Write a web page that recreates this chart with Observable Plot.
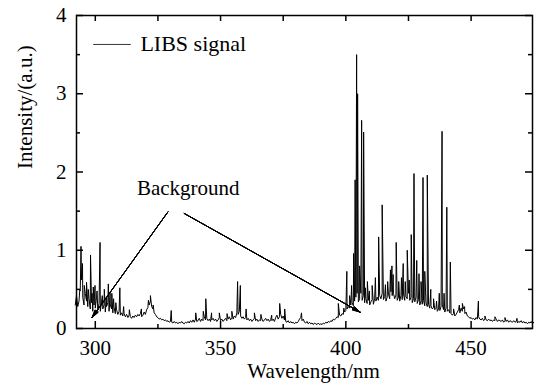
<!DOCTYPE html>
<html>
<head>
<meta charset="utf-8">
<script src="https://cdn.jsdelivr.net/npm/d3@7"></script>
<script src="https://cdn.jsdelivr.net/npm/@observablehq/plot@0.6"></script>
<style>
  html, body { margin: 0; padding: 0; background: #fff; }
</style>
</head>
<body>
<div id="chart"></div>
<script>
// Sampling grid of the continuum (nm)
const wlStart = 292.0;
const wlStep = 0.5;

// Continuum intensity, one value per 0.5 nm (292.0 … 475.0)
const baseIntensity = [
  0.30,0.42,0.28,0.35,0.48,0.62,0.40,0.30,0.45,0.35, // 292
  0.28,0.38,0.25,0.33,0.22,0.30,0.26,0.40,0.24,0.32, // 297
  0.22,0.35,0.25,0.30,0.21,0.28,0.33,0.22,0.30,0.25, // 302
  0.20,0.27,0.19,0.24,0.18,0.22,0.17,0.20,0.16,0.19, // 307
  0.15,0.18,0.14,0.17,0.15,0.13,0.16,0.14,0.17,0.15, // 312
  0.18,0.16,0.19,0.15,0.17,0.21,0.18,0.24,0.27,0.30, // 317
  0.35,0.28,0.25,0.20,0.18,0.15,0.14,0.12,0.13,0.11, // 322
  0.12,0.10,0.11,0.09,0.10,0.08,0.09,0.08,0.07,0.09, // 327
  0.07,0.08,0.06,0.08,0.07,0.09,0.07,0.06,0.08,0.07, // 332
  0.09,0.07,0.10,0.08,0.11,0.08,0.12,0.09,0.10,0.13, // 337
  0.09,0.12,0.10,0.15,0.11,0.13,0.10,0.12,0.09,0.11, // 342
  0.13,0.10,0.12,0.09,0.11,0.14,0.10,0.12,0.09,0.11, // 347
  0.13,0.10,0.12,0.15,0.11,0.14,0.12,0.16,0.14,0.20, // 352
  0.18,0.22,0.16,0.13,0.15,0.12,0.14,0.11,0.13,0.10, // 357
  0.12,0.09,0.11,0.13,0.10,0.12,0.09,0.11,0.10,0.12, // 362
  0.09,0.11,0.13,0.10,0.12,0.09,0.11,0.10,0.12,0.09, // 367
  0.14,0.17,0.12,0.15,0.18,0.13,0.16,0.11,0.09,0.08, // 372
  0.10,0.07,0.09,0.07,0.08,0.06,0.08,0.07,0.09,0.12, // 377
  0.14,0.10,0.12,0.08,0.07,0.09,0.06,0.08,0.06,0.07, // 382
  0.05,0.07,0.06,0.05,0.07,0.05,0.06,0.05,0.07,0.06, // 387
  0.08,0.07,0.09,0.08,0.10,0.09,0.12,0.11,0.13,0.15, // 392
  0.14,0.17,0.16,0.19,0.18,0.21,0.23,0.25,0.28,0.26, // 397
  0.30,0.33,0.29,0.35,0.40,0.45,0.34,0.38,0.45,0.36, // 402
  0.42,0.33,0.38,0.32,0.36,0.30,0.34,0.37,0.31,0.38, // 407
  0.35,0.40,0.36,0.42,0.38,0.45,0.37,0.41,0.35,0.40, // 412
  0.44,0.38,0.47,0.42,0.45,0.38,0.43,0.36,0.40,0.35, // 417
  0.42,0.37,0.44,0.36,0.41,0.38,0.45,0.36,0.40,0.33, // 422
  0.38,0.34,0.40,0.32,0.37,0.30,0.35,0.31,0.36,0.29, // 427
  0.33,0.28,0.31,0.26,0.29,0.25,0.27,0.24,0.26,0.22, // 432
  0.25,0.23,0.28,0.30,0.24,0.21,0.26,0.22,0.24,0.20, // 437
  0.19,0.17,0.19,0.16,0.18,0.21,0.24,0.20,0.26,0.22, // 442
  0.25,0.19,0.21,0.16,0.15,0.13,0.14,0.12,0.13,0.11, // 447
  0.14,0.12,0.15,0.12,0.11,0.13,0.10,0.12,0.11,0.10, // 452
  0.12,0.10,0.11,0.09,0.11,0.10,0.12,0.09,0.11,0.10, // 457
  0.09,0.11,0.08,0.10,0.09,0.11,0.08,0.10,0.09,0.08, // 462
  0.10,0.08,0.09,0.07,0.09,0.08,0.10,0.07,0.09,0.07, // 467
  0.08,0.06,0.08,0.07,0.09,0.06,0.08                  // 472
];

// Emission lines: wavelength (nm)
const peakWl = [
  293.8,294.3,294.9,295.6,296.5,297.2,298.1,298.7,299.2,299.9,
  300.7,301.9,302.8,303.6,304.4,305.2,305.9,306.6,307.3,308.2,
  309.8,311.3,313.6,318.4,321.2,322.0,323.1,330.3,340.1,343.1,
  344.1,346.4,349.5,352.6,354.5,356.8,357.9,360.2,363.5,366.1,
  370.4,373.6,375.6,382.3,397.0,399.2,
  400.4,401.5,402.3,403.1,403.7,404.3,404.7,405.5,406.3,407.1,
  407.8,408.6,409.4,410.5,411.8,413.1,414.5,415.8,416.7,417.8,
  418.4,418.9,420.1,421.1,422.2,422.9,423.7,424.5,425.3,426.1,
  427.2,428.3,429.2,430.0,430.8,431.5,432.5,433.9,435.0,436.2,
  437.3,438.4,439.2,440.3,441.7,443.0,445.3,446.5,447.4,452.9,
  455.5,459.5,463.5,468.3
];
// Emission lines: peak intensity (a.u.)
const peakIntensity = [
  0.49,1.05,0.83,0.55,0.59,0.50,0.94,0.45,0.53,0.55,
  0.48,1.10,0.42,0.50,0.40,0.57,0.45,0.45,0.38,0.33,
  0.52,0.28,0.24,0.25,0.36,0.42,0.30,0.23,0.20,0.22,
  0.38,0.20,0.20,0.19,0.22,0.60,0.55,0.25,0.20,0.18,
  0.17,0.32,0.25,0.20,0.32,0.26,
  0.73,0.42,0.55,0.96,1.90,3.50,3.00,0.80,2.66,2.51,
  0.52,0.60,0.48,0.55,0.65,1.17,1.58,0.56,0.60,0.75,
  0.80,0.69,1.10,0.60,0.65,0.83,0.60,1.00,0.62,1.20,
  1.98,0.87,0.70,0.60,1.93,0.73,1.96,0.50,0.38,0.35,
  0.45,2.52,0.45,1.55,0.85,0.25,0.30,0.32,0.28,0.35,
  0.16,0.15,0.14,0.13
];

// Axis ticks
const xMajor = [300, 350, 400, 450];
const xMinor = [325, 375, 425];
const yMajor = [0, 1, 2, 3, 4];
const yMinor = [0.5, 1.5, 2.5, 3.5];

// Annotations (data coordinates)
const arrowX1 = [329.0, 335.5];
const arrowY1 = [1.49, 1.47];
const arrowX2 = [298.7, 405.7];
const arrowY2 = [0.14, 0.21];
const noteText = ["Background"];
const noteX = [337.1];
const noteY = [1.79];
const legendX = [299.3, 314.0];
const legendY = [3.63, 3.63];
const legendLabel = ["LIBS signal"];
const legendLabelX = [318.0];

const spectrum = baseIntensity.map((v, i) => ({x: wlStart + i * wlStep, y: v}))
  .concat(peakWl.map((w, i) => ({x: w, y: peakIntensity[i]})))
  .sort((a, b) => a.x - b.x);

const arrows = arrowX1.map((d, i) => ({x1: d, y1: arrowY1[i], x2: arrowX2[i], y2: arrowY2[i]}));
const legendLine = legendX.map((d, i) => ({x: d, y: legendY[i]}));

const FONT = "Liberation Serif";
const W = 534, H = 392;
const mL = 76, mR = 2, mT = 15, mB = 64;
const innerH = H - mT - mB;
const innerW = W - mL - mR;

// filled-looking arrow heads: fan of head angles
const headFan = [6, 12, 18, 24, 30];

const chart = Plot.plot({
  width: W,
  height: H,
  marginLeft: mL,
  marginRight: mR,
  marginTop: mT,
  marginBottom: mB,
  style: {fontFamily: FONT, fontSize: "20px", background: "#fff", color: "#000"},
  x: {domain: [292.5, 474.5], label: null},
  y: {domain: [0, 4], label: null},
  marks: [
    Plot.line(spectrum, {x: "x", y: "y", stroke: "#000", strokeWidth: 1}),
    // ticks (inward, all four sides)
    Plot.tickX(xMajor, {x: d => d, insetTop: innerH - 7, stroke: "#000", strokeWidth: 1.5}),
    Plot.tickX(xMinor, {x: d => d, insetTop: innerH - 4, stroke: "#000", strokeWidth: 1.5}),
    Plot.tickX(xMajor.concat(xMinor), {x: d => d, insetBottom: innerH - 6, stroke: "#000", strokeWidth: 1.5}),
    Plot.tickY(yMajor, {y: d => d, insetRight: innerW - 7, stroke: "#000", strokeWidth: 1.5}),
    Plot.tickY(yMinor, {y: d => d, insetRight: innerW - 4, stroke: "#000", strokeWidth: 1.5}),
    Plot.tickY(yMajor, {y: d => d, insetLeft: innerW - 7, stroke: "#000", strokeWidth: 1.5}),
    Plot.tickY(yMinor, {y: d => d, insetLeft: innerW - 4, stroke: "#000", strokeWidth: 1.5}),
    // tick labels
    Plot.axisX({ticks: xMajor, anchor: "bottom", tickSize: 0, tickPadding: 12, fontSize: 21, fontFamily: FONT, tickFormat: d3.format("d"), label: null}),
    Plot.axisY({ticks: yMajor, anchor: "left", tickSize: 0, tickPadding: 10, fontSize: 21, fontFamily: FONT, tickFormat: d3.format("d"), label: null}),
    Plot.frame({stroke: "#000", strokeWidth: 1.5}),
    // axis titles
    Plot.text(["Intensity/(a.u.)"], {frameAnchor: "left", rotate: -90, dx: -51, dy: -3, fontSize: 21, fontFamily: FONT, fill: "#000"}),
    Plot.text(["Wavelength/nm"], {frameAnchor: "bottom", dx: 9, dy: 49, fontSize: 21, fontFamily: FONT, fill: "#000"}),
    // legend
    Plot.line(legendLine, {x: "x", y: "y", stroke: "#000", strokeWidth: 0.8}),
    Plot.text(legendLabel, {x: legendLabelX, y: [legendY[0]], text: d => d, textAnchor: "start", fontSize: 22, fontFamily: FONT, fill: "#000"}),
    // annotation
    Plot.text(noteText, {x: noteX, y: noteY, text: d => d, fontSize: 21, fontFamily: FONT, fill: "#000"}),
    ...headFan.map(a => Plot.arrow(arrows, {x1: "x1", y1: "y1", x2: "x2", y2: "y2", stroke: "#000", strokeWidth: 1, headLength: 12, headAngle: a}))
  ]
});
document.getElementById("chart").appendChild(chart);
</script>
</body>
</html>
